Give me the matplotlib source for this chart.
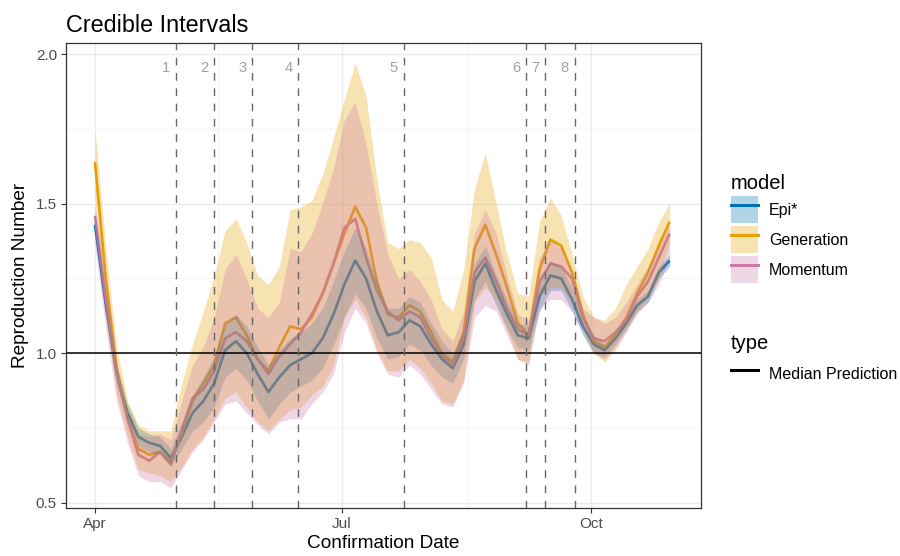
import matplotlib
matplotlib.use("Agg")
import matplotlib.pyplot as plt
import matplotlib.dates as mdates
from matplotlib.lines import Line2D
from matplotlib.patches import Patch
import numpy as np
import pandas as pd

plt.rcParams['font.family'] = ['Liberation Sans', 'DejaVu Sans']

# every 4 days from 1 April
dates = pd.date_range('2020-04-01', periods=54, freq='4D')

models = ['Epi*', 'Generation', 'Momentum']
colors = ['#0072B2', '#E69F00', '#CC79A7']

epi_med = [1.43, 1.16, 0.93, 0.80, 0.72, 0.70, 0.69, 0.65, 0.72, 0.80, 0.84, 0.90, 1.01, 1.04,
           1.00, 0.93, 0.87, 0.92, 0.96, 0.98, 1.00, 1.05, 1.13, 1.23, 1.31, 1.25, 1.14, 1.06,
           1.07, 1.11, 1.09, 1.03, 0.98, 0.95, 1.03, 1.24, 1.30, 1.21, 1.13, 1.06, 1.05, 1.19,
           1.26, 1.25, 1.18, 1.09, 1.03, 1.01, 1.05, 1.10, 1.16, 1.19, 1.27, 1.31]
epi_lo = [1.40, 1.13, 0.90, 0.77, 0.69, 0.67, 0.66, 0.62, 0.68, 0.74, 0.77, 0.82, 0.92, 0.95,
          0.91, 0.84, 0.78, 0.83, 0.87, 0.89, 0.91, 0.95, 1.03, 1.12, 1.20, 1.15, 1.05, 0.98,
          0.99, 1.03, 1.01, 0.96, 0.92, 0.90, 0.98, 1.18, 1.24, 1.16, 1.08, 1.02, 1.01, 1.14,
          1.21, 1.21, 1.14, 1.06, 1.00, 0.99, 1.03, 1.08, 1.14, 1.17, 1.25, 1.29]
epi_hi = [1.46, 1.19, 0.96, 0.83, 0.75, 0.73, 0.72, 0.68, 0.77, 0.86, 0.92, 0.99, 1.10, 1.13,
          1.09, 1.02, 0.96, 1.01, 1.05, 1.07, 1.10, 1.15, 1.24, 1.34, 1.42, 1.35, 1.24, 1.15,
          1.15, 1.19, 1.17, 1.10, 1.04, 1.00, 1.08, 1.30, 1.36, 1.26, 1.18, 1.10, 1.09, 1.24,
          1.31, 1.29, 1.22, 1.12, 1.06, 1.03, 1.07, 1.12, 1.18, 1.21, 1.29, 1.33]

gen_med = [1.64, 1.25, 0.95, 0.78, 0.68, 0.66, 0.67, 0.64, 0.73, 0.84, 0.90, 0.96, 1.10, 1.12,
           1.06, 0.98, 0.94, 1.02, 1.09, 1.08, 1.12, 1.20, 1.30, 1.40, 1.49, 1.42, 1.24, 1.13,
           1.12, 1.16, 1.14, 1.07, 1.00, 0.97, 1.07, 1.35, 1.43, 1.33, 1.22, 1.10, 1.06, 1.28,
           1.38, 1.36, 1.27, 1.13, 1.04, 1.02, 1.06, 1.12, 1.20, 1.27, 1.36, 1.44]
gen_lo = [1.52, 1.12, 0.86, 0.72, 0.61, 0.60, 0.59, 0.57, 0.62, 0.68, 0.72, 0.78, 0.85, 0.87,
          0.82, 0.77, 0.74, 0.78, 0.81, 0.82, 0.86, 0.89, 0.96, 1.12, 1.18, 1.12, 1.01, 0.94,
          0.94, 0.98, 0.95, 0.90, 0.84, 0.83, 0.91, 1.17, 1.22, 1.18, 1.08, 0.98, 0.97, 1.19,
          1.22, 1.22, 1.17, 1.08, 1.00, 0.97, 1.02, 1.08, 1.14, 1.19, 1.25, 1.37]
gen_hi = [1.75, 1.35, 1.02, 0.84, 0.76, 0.74, 0.74, 0.74, 0.90, 1.03, 1.14, 1.26, 1.41, 1.45,
          1.37, 1.26, 1.23, 1.29, 1.48, 1.49, 1.51, 1.60, 1.72, 1.85, 1.97, 1.86, 1.58, 1.37,
          1.35, 1.38, 1.37, 1.32, 1.18, 1.14, 1.28, 1.55, 1.67, 1.50, 1.33, 1.20, 1.19, 1.44,
          1.52, 1.46, 1.33, 1.19, 1.12, 1.11, 1.15, 1.23, 1.29, 1.35, 1.44, 1.50]

mom_med = [1.46, 1.18, 0.93, 0.78, 0.66, 0.64, 0.67, 0.63, 0.74, 0.85, 0.88, 0.94, 1.05, 1.07,
           1.04, 0.98, 0.93, 0.99, 1.03, 1.07, 1.13, 1.20, 1.30, 1.42, 1.45, 1.32, 1.21, 1.14,
           1.11, 1.14, 1.12, 1.05, 0.99, 0.96, 1.05, 1.27, 1.32, 1.24, 1.15, 1.08, 1.06, 1.24,
           1.30, 1.29, 1.25, 1.12, 1.05, 1.04, 1.07, 1.11, 1.19, 1.24, 1.32, 1.40]
mom_lo = [1.36, 1.08, 0.84, 0.70, 0.59, 0.57, 0.57, 0.55, 0.61, 0.67, 0.71, 0.77, 0.83, 0.84,
          0.80, 0.76, 0.73, 0.77, 0.78, 0.78, 0.83, 0.87, 0.93, 1.07, 1.15, 1.10, 1.00, 0.93,
          0.92, 0.96, 0.93, 0.88, 0.83, 0.82, 0.90, 1.12, 1.16, 1.14, 1.06, 0.98, 0.96, 1.15,
          1.18, 1.18, 1.14, 1.07, 1.00, 0.98, 1.01, 1.07, 1.13, 1.17, 1.23, 1.32]
mom_hi = [1.50, 1.25, 0.97, 0.80, 0.73, 0.72, 0.73, 0.71, 0.84, 0.96, 1.02, 1.12, 1.28, 1.33,
          1.25, 1.15, 1.12, 1.17, 1.35, 1.34, 1.40, 1.50, 1.62, 1.78, 1.84, 1.70, 1.50, 1.33,
          1.25, 1.28, 1.24, 1.18, 1.08, 1.04, 1.14, 1.40, 1.48, 1.40, 1.26, 1.13, 1.11, 1.32,
          1.38, 1.35, 1.27, 1.15, 1.12, 1.10, 1.12, 1.17, 1.23, 1.29, 1.36, 1.43]

# intervention dates, labelled 1..8
event_dates = pd.to_datetime(['2020-05-01', '2020-05-15', '2020-05-29', '2020-06-15',
                              '2020-07-24', '2020-09-07', '2020-09-14', '2020-09-25'])
event_labels = ['1', '2', '3', '4', '5', '6', '7', '8']

medians = [epi_med, gen_med, mom_med]
lows = [epi_lo, gen_lo, mom_lo]
highs = [epi_hi, gen_hi, mom_hi]

fig = plt.figure(figsize=(9, 5.56), dpi=100)
ax = fig.add_axes([0.0733, 0.0869, 0.7057, 0.8363])

# lines first, the ribbons sit over them as in the original
for med, c in zip(medians, colors):
    ax.plot(dates, med, color=c, lw=1.9, zorder=3, solid_capstyle='butt')
for lo, hi, c in zip(lows, highs, colors):
    ax.fill_between(dates, lo, hi, color=c, alpha=0.3, lw=0, zorder=4)

ax.axhline(1.0, color='black', lw=1.1, zorder=5)

for d, lab in zip(event_dates, event_labels):
    ax.axvline(d, color='#666666', lw=1.0, linestyle=(0, (5.5, 5.5)), zorder=6)
    ax.text(d - pd.Timedelta(days=2.2), 1.955, lab, ha='right', va='center',
            fontsize=10.5, color='#a0a0a0', zorder=7)

start = pd.Timestamp('2020-04-01')
ax.set_xlim(start - pd.Timedelta(days=10.7), start + pd.Timedelta(days=223.6))
ax.set_ylim(0.483, 2.039)

ax.set_xticks(pd.to_datetime(['2020-04-01', '2020-07-01', '2020-10-01']))
ax.xaxis.set_major_formatter(mdates.DateFormatter('%b'))
ax.set_xticks(pd.to_datetime(['2020-05-16 12:00', '2020-08-16 12:00']), minor=True)
ax.set_yticks([0.5, 1.0, 1.5, 2.0])
ax.set_yticklabels(['0.5', '1.0', '1.5', '2.0'])
ax.set_yticks([0.75, 1.25, 1.75], minor=True)

ax.grid(which='major', color='#ebebeb', lw=1.0, zorder=0)
ax.grid(which='minor', color='#f2f2f2', lw=0.6, zorder=0)
ax.set_axisbelow(True)
ax.tick_params(which='major', length=3.5, width=0.8, color='#333333',
               labelsize=11, labelcolor='#4d4d4d', pad=3)
ax.tick_params(which='minor', length=0)
for s in ax.spines.values():
    s.set_color('#333333')
    s.set_linewidth(0.9)

ax.set_xlabel('Confirmation Date', fontsize=13.7, labelpad=3)
ax.set_ylabel('Reproduction Number', fontsize=13.7, labelpad=5)
ax.set_title('Credible Intervals', fontsize=16.8, loc='left', pad=8)

model_handles = [(Patch(facecolor=c, alpha=0.3, lw=0), Line2D([], [], color=c, lw=2.2))
                 for c in colors]
leg1 = ax.legend(model_handles, models, title='model', loc='upper left',
                 bbox_to_anchor=(1.037, 0.731), frameon=False, fontsize=11.5,
                 title_fontsize=14.5, handlelength=1.69, handleheight=2.22,
                 labelspacing=0.19, handletextpad=0.7, borderaxespad=0)
leg1._legend_box.align = 'left'
ax.add_artist(leg1)

type_handles = [Line2D([], [], color='black', lw=2.2)]
leg2 = ax.legend(type_handles, ['Median Prediction'], title='type', loc='upper left',
                 bbox_to_anchor=(1.037, 0.388), frameon=False, fontsize=11.5,
                 title_fontsize=14.5, handlelength=1.69, handleheight=2.22,
                 handletextpad=0.7, borderaxespad=0)
leg2._legend_box.align = 'left'

fig.savefig('out.png', dpi=100)
